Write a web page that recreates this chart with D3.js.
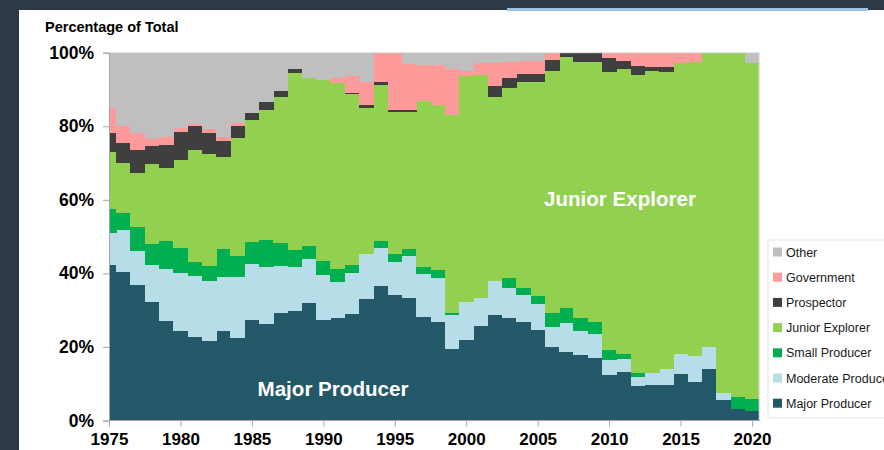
<!DOCTYPE html>
<html>
<head>
<meta charset="utf-8">
<script src="https://cdnjs.cloudflare.com/ajax/libs/d3/7.8.5/d3.min.js"></script>
<style>
  body { margin: 0; background: #2d3a45; }
  svg { display: block; font-family: "Liberation Sans", Arial, sans-serif; }
</style>
</head>
<body>
<svg width="884" height="450"></svg>
<script>
var years = [1975,1976,1977,1978,1979,1980,1981,1982,1983,1984,1985,1986,1987,1988,1989,
             1990,1991,1992,1993,1994,1995,1996,1997,1998,1999,2000,2001,2002,2003,2004,
             2005,2006,2007,2008,2009,2010,2011,2012,2013,2014,2015,2016,2017,2018,2019,2020];

var major = [42.3,40.5,36.8,32.1,27.1,24.4,22.8,21.6,24.2,22.5,27.2,26.2,29.3,29.7,31.9,
             27.3,27.8,29.0,33.0,36.6,34.1,33.4,28.2,26.8,19.5,21.8,25.7,28.7,27.8,26.7,
             24.6,20.0,18.7,17.8,16.9,12.4,13.2,9.4,9.6,9.7,12.6,10.6,13.9,5.6,3.0,2.7];
var moderate = [8.6,11.3,9.3,10.2,14.0,15.8,16.5,16.4,14.9,16.6,15.4,15.4,12.7,12.0,12.0,
                12.3,9.8,11.0,12.4,10.4,9.0,11.2,11.5,12.0,9.1,10.4,7.5,9.2,8.3,7.4,
                7.2,5.3,7.9,6.5,6.5,4.0,3.6,2.3,3.4,4.3,5.6,7.0,6.0,1.8,0,0];
var small = [6.6,4.7,6.6,5.7,7.7,6.7,3.9,3.9,7.5,5.7,5.8,7.4,6.2,4.6,3.6,
             3.8,3.5,2.4,0,1.9,2.1,2.1,2.1,2.1,0.6,0,0,0,2.6,1.9,
             2.1,4.0,3.9,3.6,3.5,2.8,1.4,1.1,0,0,0,0,0,0,3.5,3.1];
var junior = [15.6,13.5,14.6,21.8,19.8,23.8,30.4,30.6,25.0,32.0,33.2,35.4,39.8,48.1,45.7,
              49.3,50.7,46.4,39.7,42.3,38.7,37.2,45.1,44.8,53.8,61.5,60.8,50.0,51.6,56.0,
              58.1,65.6,68.3,69.6,70.6,75.6,77.3,81.1,82.0,80.8,79.0,80.0,80.1,92.6,93.5,91.4];
var prospector = [5.2,5.4,6.3,4.7,6.4,7.7,6.4,5.8,4.5,3.3,1.9,2.2,1.7,1.1,0,
                  0,0,0.3,0.7,0.7,0.5,0.5,0,0,0,0,0,3.1,2.8,2.3,
                  2.3,3.2,1.2,2.5,2.5,3.7,2.2,2.5,1.2,1.4,0,0,0,0,0,0];
var government = [6.8,4.8,4.7,2.0,2.2,1.1,0.7,0.9,1.0,0.8,0,0,0,0,0,
                  0,1.3,4.7,6.1,8.1,15.6,12.6,9.8,10.9,12.5,1.3,3.1,6.1,4.3,3.5,
                  3.5,1.9,0,0,0,1.5,2.3,3.6,3.8,3.8,2.8,2.4,0,0,0,0];
var other = [14.9,19.8,21.7,23.5,22.8,20.5,19.3,20.8,22.9,19.1,16.5,13.4,10.3,4.5,6.8,
             7.3,6.9,6.2,8.1,0,0,3.0,3.3,3.4,4.5,5.0,2.9,2.9,2.6,2.2,
             2.2,0,0,0,0,0,0,0,0,0,0,0,0,0,0,2.8];

var seriesNames = ['Major Producer','Moderate Producer','Small Producer','Junior Explorer',
                   'Prospector','Government','Other'];
var seriesColors = ['#225867','#b7dde8','#00b050','#92d050','#3f3f3f','#ff9a9a','#bfbfbf'];
var yTicks = [0, 0.2, 0.4, 0.6, 0.8, 1];
var xTicks = [1975,1980,1985,1990,1995,2000,2005,2010,2015,2020];

var svg = d3.select('svg');

// white slide panel
svg.append('rect').attr('x', 19).attr('y', 10).attr('width', 870).attr('height', 445).attr('fill', '#fff');
svg.append('rect').attr('x', 507).attr('y', 8).attr('width', 361).attr('height', 3).attr('fill', '#9fc1e4');

var x = d3.scaleLinear().domain([1975, 2020]).range([109, 752]);
var y = d3.scaleLinear().domain([0, 1]).range([420.5, 52.7]);

var table = years.map(function (yr, i) {
  var row = { year: yr };
  [major, moderate, small, junior, prospector, government, other].forEach(function (s, k) {
    row[seriesNames[k]] = s[i];
  });
  return row;
});

var stack = d3.stack().keys(seriesNames).offset(d3.stackOffsetExpand);
var layers = stack(table);

svg.append('clipPath').attr('id', 'plot')
  .append('rect')
  .attr('x', x(1975)).attr('y', y(1))
  .attr('width', x(2020.5) - x(1975)).attr('height', y(0) - y(1));

var g = svg.append('g').attr('clip-path', 'url(#plot)');
g.selectAll('g.layer').data(layers).enter()
  .append('g').attr('class', 'layer')
  .attr('fill', function (d, i) { return seriesColors[i]; })
  .selectAll('rect').data(function (d) { return d; }).enter()
  .append('rect')
  .attr('shape-rendering', 'crispEdges')
  .attr('x', function (d) { return x(d.data.year - 0.5); })
  .attr('width', function (d) { return x(d.data.year + 0.5) - x(d.data.year - 0.5) + 0.4; })
  .attr('y', function (d) { return y(d[1]); })
  .attr('height', function (d) { return Math.max(0, y(d[0]) - y(d[1])); });

// plot frame (top & right, light)
svg.append('path')
  .attr('d', 'M' + x(1975) + ',' + y(1) + 'H' + x(2020.5) + 'V' + y(0))
  .attr('fill', 'none').attr('stroke', '#dcdcdc');

var yAxis = svg.append('g').attr('transform', 'translate(' + x(1975) + ',0)')
  .call(d3.axisLeft(y).tickValues(yTicks).tickSize(6).tickPadding(9)
        .tickFormat(function (d) { return Math.round(d * 100) + '%'; }));
yAxis.select('.domain').attr('stroke', '#a6a6a6');
yAxis.selectAll('.tick line').attr('stroke', '#a6a6a6');
yAxis.selectAll('text').attr('font-size', 17.5).attr('font-weight', 'bold').attr('fill', '#000');

var xAxis = svg.append('g').attr('transform', 'translate(0,' + y(0) + ')')
  .call(d3.axisBottom(x).tickValues(xTicks).tickSize(6).tickPadding(6).tickSizeOuter(0)
        .tickFormat(d3.format('d')));
xAxis.select('.domain').attr('d', 'M' + x(1975) + ',0H' + (x(2020.5) + 1)).attr('stroke', '#a6a6a6');
xAxis.selectAll('.tick line').attr('stroke', '#a6a6a6');
xAxis.selectAll('text').attr('font-size', 17).attr('font-weight', 'bold').attr('fill', '#000');

svg.append('text').attr('x', 45).attr('y', 32)
  .attr('font-size', 14.5).attr('font-weight', 'bold').text('Percentage of Total');

svg.append('text').attr('x', 620).attr('y', 206).attr('text-anchor', 'middle')
  .attr('fill', '#fff').attr('font-size', 21).attr('font-weight', 'bold')
  .attr('textLength', 152).attr('lengthAdjust', 'spacingAndGlyphs')
  .text('Junior Explorer');
svg.append('text').attr('x', 333).attr('y', 396).attr('text-anchor', 'middle')
  .attr('fill', '#fff').attr('font-size', 21).attr('font-weight', 'bold')
  .attr('textLength', 151).attr('lengthAdjust', 'spacingAndGlyphs')
  .text('Major Producer');

// legend
svg.append('rect').attr('x', 768).attr('y', 240).attr('width', 130).attr('height', 178)
  .attr('fill', '#fff').attr('stroke', '#e3e3e3');
var legendNames = seriesNames.slice().reverse();
var legendColors = seriesColors.slice().reverse();
var lg = svg.selectAll('g.leg').data(legendNames).enter()
  .append('g').attr('class', 'leg')
  .attr('transform', function (d, i) { return 'translate(773,' + (252 + i * 25.2) + ')'; });
lg.append('rect').attr('x', 0).attr('y', -4.5).attr('width', 9).attr('height', 9)
  .attr('fill', function (d, i) { return legendColors[i]; });
lg.append('text').attr('x', 13).attr('y', 4.5).attr('font-size', 12.5).attr('fill', '#1a1a1a')
  .text(function (d) { return d; });
</script>
</body>
</html>
